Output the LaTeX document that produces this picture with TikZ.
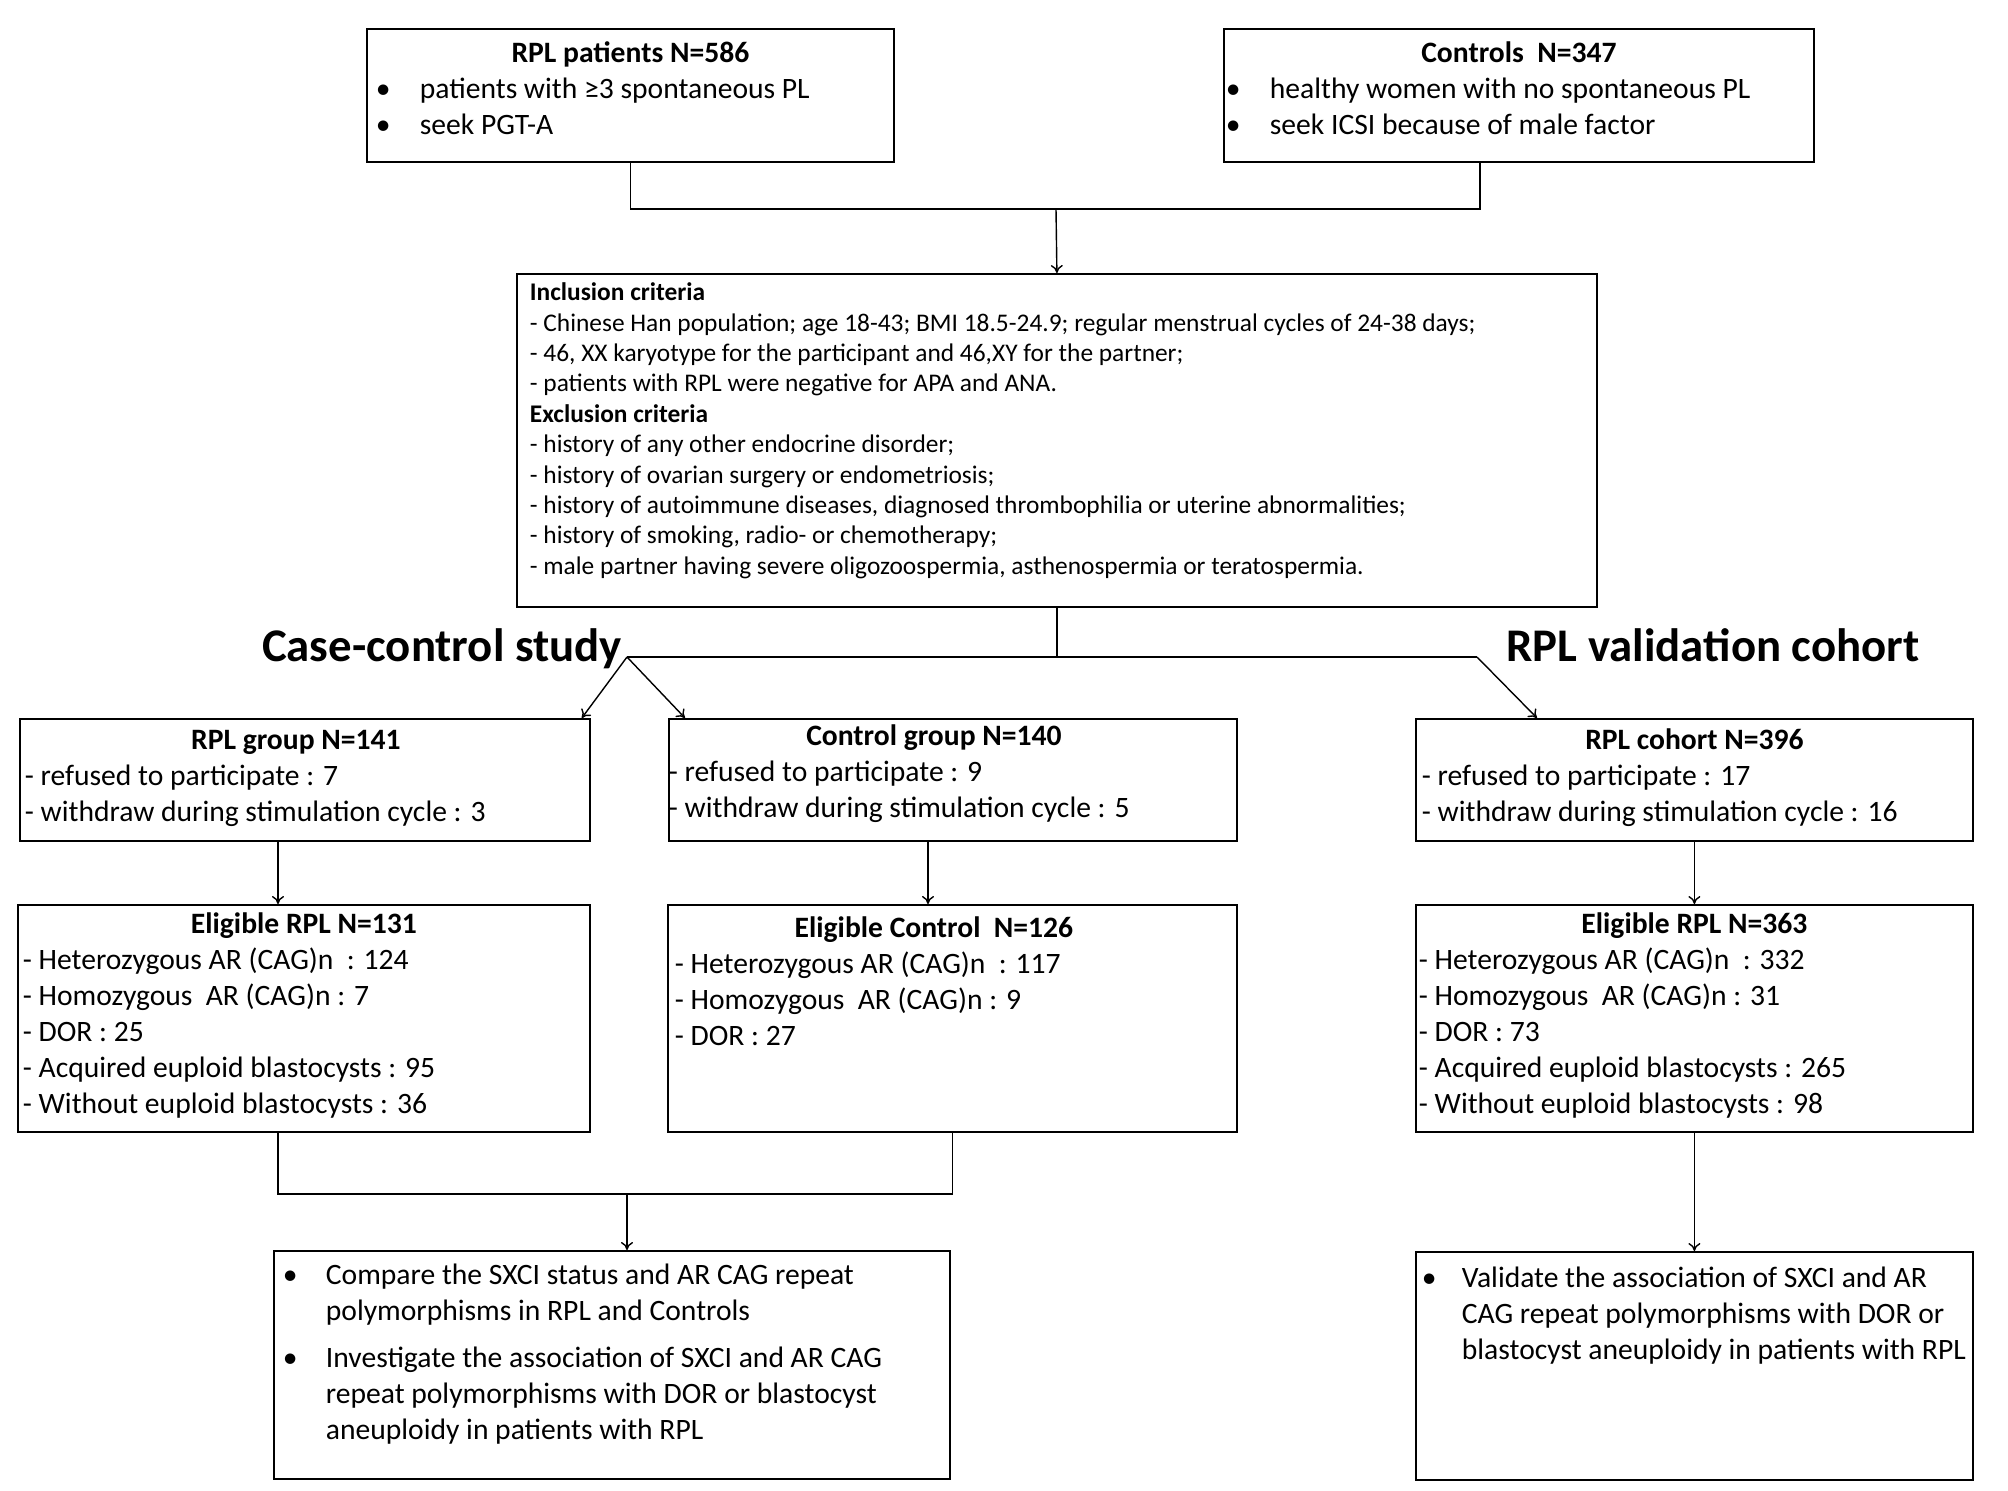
\documentclass[tikz,border=0pt]{standalone}
\usepackage{fontspec}
\setmainfont{Carlito}
\usetikzlibrary{arrows.meta}

% box contents: width, height, top gap, left indent, lines
\newcommand{\bxtext}[5]{\parbox[t][#2][t]{#1}{\vspace*{#3}\raggedright\leftskip=#4\relax#5}}
\newcommand{\bxhead}[2][0pt]{{\leftskip=0pt plus 1fil\rightskip=0pt plus 1fil\parfillskip=0pt\bfseries\strut#2\hspace*{#1}\par}}
\newcommand{\bxline}[1]{\strut\mbox{#1}\par}
\newcommand{\bxbul}[2][22pt]{\strut\makebox[#1][l]{\textbullet}\mbox{#2}\par}
\newcommand{\bxcont}[2][22pt]{\strut\hspace*{#1}\mbox{#2}\par}

\begin{document}
\begin{tikzpicture}[x=0.5pt,y=-0.5pt,
  box/.style={draw,line width=0.9pt,anchor=north west,inner sep=0pt,font=\fontsize{14.8}{18}\selectfont},
  conn/.style={line width=0.7pt},
  arr/.style={line width=0.7pt,-{To[length=4pt,width=6pt]}},
  heading/.style={anchor=base,font=\fontsize{23.4}{28}\selectfont\bfseries}]
\useasboundingbox (0,0) rectangle (2008,1490);

\node[box] (rpl) at (366,28) {\bxtext{263.5pt}{66.5pt}{4.35pt}{4.5pt}{%
  \bxhead{RPL patients N=586}
  \bxbul{patients with ≥3 spontaneous PL}
  \bxbul{seek PGT-A}}};
\node[box] (ctrl) at (1223,28) {\bxtext{295pt}{66.5pt}{4.35pt}{1pt}{%
  \bxhead{Controls\ \ N=347}
  \bxbul{healthy women with no spontaneous PL}
  \bxbul{seek ICSI because of male factor}}};

\node[box,font=\fontsize{12.7}{15.2}\selectfont] (incl) at (516,273) {\bxtext{540pt}{166.5pt}{2.8pt}{6.5pt}{%
  \bxline{\textbf{Inclusion criteria}}
  \bxline{- Chinese Han population; age 18-43; BMI 18.5-24.9; regular menstrual cycles of 24-38 days;}
  \bxline{- 46, XX karyotype for the participant and 46,XY for the partner;}
  \bxline{- patients with RPL were negative for APA and ANA.}
  \bxline{\textbf{Exclusion criteria}}
  \bxline{- history of any other endocrine disorder;}
  \bxline{- history of ovarian surgery or endometriosis;}
  \bxline{- history of autoimmune diseases, diagnosed thrombophilia or uterine abnormalities;}
  \bxline{- history of smoking, radio- or chemotherapy;}
  \bxline{- male partner having severe oligozoospermia, asthenospermia or teratospermia.}}};

\node[heading] (ccs) at (442,661) {Case-control study};
\node[heading] (rvc) at (1713,661) {RPL validation cohort};

\node[box] (rplgrp) at (19,718) {\bxtext{285pt}{61pt}{2.6pt}{2.5pt}{%
  \bxhead[9pt]{RPL group N=141}
  \bxline{- refused to participate : 7}
  \bxline{- withdraw during stimulation cycle : 3}}};
\node[box] (ctlgrp) at (668,718) {\bxtext{284pt}{61pt}{0.6pt}{0pt}{%
  \bxhead[19pt]{Control group N=140}
  \bxline{- refused to participate : 9}
  \bxline{- withdraw during stimulation cycle : 5}}};
\node[box] (cohort) at (1415,718) {\bxtext{278.5pt}{61pt}{2.6pt}{3pt}{%
  \bxhead{RPL cohort N=396}
  \bxline{- refused to participate : 17}
  \bxline{- withdraw during stimulation cycle : 16}}};

\node[box] (elig1) at (17,904) {\bxtext{286pt}{113.5pt}{1.6pt}{2.5pt}{%
  \bxhead{Eligible RPL N=131}
  \bxline{- Heterozygous AR (CAG)n\ \ : 124}
  \bxline{- Homozygous\ \ AR (CAG)n : 7}
  \bxline{- DOR : 25}
  \bxline{- Acquired euploid blastocysts : 95}
  \bxline{- Without euploid blastocysts : 36}}};
\node[box] (elig2) at (667,904) {\bxtext{284.5pt}{113.5pt}{3.6pt}{3.5pt}{%
  \bxhead[18.5pt]{Eligible Control\ \ N=126}
  \bxline{- Heterozygous AR (CAG)n\ \ : 117}
  \bxline{- Homozygous\ \ AR (CAG)n : 9}
  \bxline{- DOR : 27}}};
\node[box] (elig3) at (1415,904) {\bxtext{278.5pt}{113.5pt}{1.6pt}{1.5pt}{%
  \bxhead{Eligible RPL N=363}
  \bxline{- Heterozygous AR (CAG)n\ \ : 332}
  \bxline{- Homozygous\ \ AR (CAG)n : 31}
  \bxline{- DOR : 73}
  \bxline{- Acquired euploid blastocysts : 265}
  \bxline{- Without euploid blastocysts : 98}}};

\node[box] (compare) at (273,1250) {\bxtext{338pt}{114pt}{4.1pt}{4.5pt}{%
  \bxbul[21.5pt]{Compare the SXCI status and AR CAG repeat}
  \bxcont[21.5pt]{polymorphisms in RPL and Controls}
  \vspace{5.5pt}
  \bxbul[21.5pt]{Investigate the association of SXCI and AR CAG}
  \bxcont[21.5pt]{repeat polymorphisms with DOR or blastocyst}
  \bxcont[21.5pt]{aneuploidy in patients with RPL}}};
\node[box] (validate) at (1415,1251) {\bxtext{278.5pt}{114pt}{5.1pt}{3pt}{%
  \bxbul[20pt]{Validate the association of SXCI and AR}
  \bxcont[20pt]{CAG repeat polymorphisms with DOR or}
  \bxcont[20pt]{blastocyst aneuploidy in patients with RPL}}};

\coordinate (top) at (1056,209);
\coordinate (split) at (627,657);
\coordinate (bend) at (1477,657);
\coordinate (merge) at (627,1194);

\draw[conn] (rpl.south) |- (top) -| ([xshift=-19.5pt]ctrl.south);
\draw[arr] (top) -- (incl.north);
\draw[conn] (incl.south) -- (incl.south |- split);
\draw[conn] (split) -- (bend);
\draw[arr] (split) -- ([xshift=-4.5pt]rplgrp.north east);
\draw[arr] (split) -- ([xshift=8.5pt]ctlgrp.north west);
\draw[arr] (bend) -- ([xshift=61pt]cohort.north west);
\draw[arr] ([xshift=129.5pt]rplgrp.south west) -- ([xshift=130.5pt]elig1.north west);
\draw[arr] ([xshift=130pt]ctlgrp.south west) -- ([xshift=130.5pt]elig2.north west);
\draw[arr] (cohort.south) -- (elig3.north);
\draw[conn] ([xshift=130.5pt]elig1.south west) |- (merge) -| (elig2.south);
\draw[arr] (merge) -- (merge |- compare.north);
\draw[arr] (elig3.south) -- (validate.north);
\end{tikzpicture}
\end{document}
